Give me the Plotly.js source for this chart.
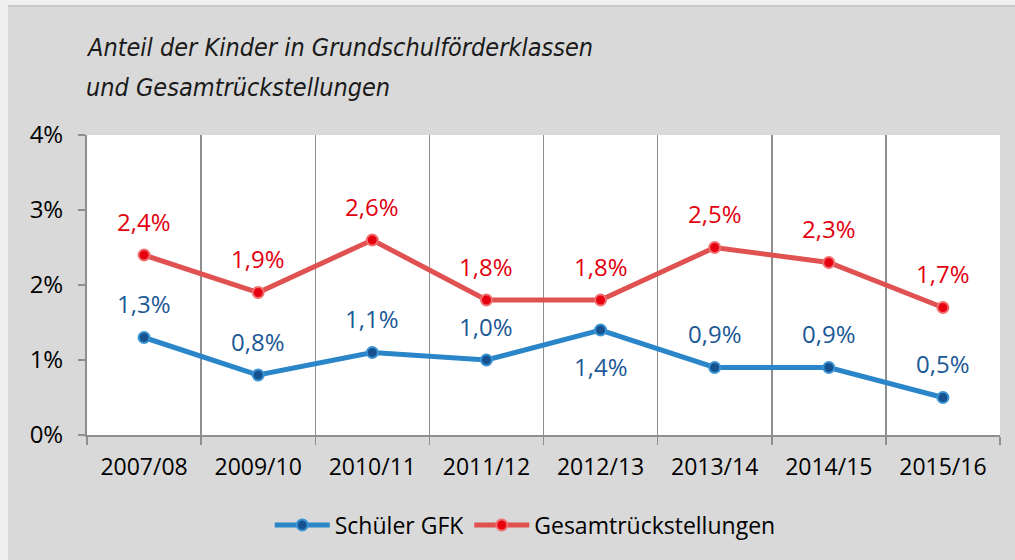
<!DOCTYPE html>
<html>
<head>
<meta charset="utf-8">
<script src="https://cdn.plot.ly/plotly-3.0.1.min.js"></script>
<style>
html,body{margin:0;padding:0;background:#efefef;}
#chart{position:absolute;left:8px;top:5px;width:1007px;height:555px;}
#topline{position:absolute;left:8px;top:5px;width:1007px;height:2px;background:#c9c9c9;z-index:5;}
</style>
</head>
<body>
<div id="chart"></div>
<div id="topline"></div>
<script>
const categories = ["2007/08","2009/10","2010/11","2011/12","2012/13","2013/14","2014/15","2015/16"];
const schuelerGFK = [1.3, 0.8, 1.1, 1.0, 1.4, 0.9, 0.9, 0.5];
const gesamtRueck = [2.4, 1.9, 2.6, 1.8, 1.8, 2.5, 2.3, 1.7];
const blueLabelBelow = [false,false,false,false,true,false,false,false];
const yTickVals = [0,1,2,3,4];
const yTickText = ["0%","1%","2%","3%","4%"];
const titleLines = ["Anteil der Kinder in Grundschulförderklassen","und Gesamtrückstellungen"];

const fmt = v => v.toFixed(1).replace('.', ',') + '%';
const FONT = "Open Sans, Noto Sans, sans-serif";
const RED_TXT = "#e3000f", BLUE_TXT = "#1b5896";

const traces = [
  {
    x: categories, y: schuelerGFK, name: "Schüler GFK", type: "scatter", mode: "lines+markers",
    line: {color: "#2a86c8", width: 5},
    marker: {color: "#16528f", size: 11, line: {color: "#3a93d3", width: 2}},
    hoverinfo: "skip"
  },
  {
    x: categories, y: gesamtRueck, name: "Gesamtrückstellungen", type: "scatter", mode: "lines+markers",
    line: {color: "#e05252", width: 5},
    marker: {color: "#e60010", size: 11, line: {color: "#f07070", width: 2}},
    hoverinfo: "skip"
  }
];

const annotations = [];
categories.forEach((c, i) => {
  annotations.push({x: c, y: gesamtRueck[i], xref: "x", yref: "y", text: fmt(gesamtRueck[i]),
    showarrow: false, yshift: 34, font: {family: FONT, size: 24, color: RED_TXT}});
  annotations.push({x: c, y: schuelerGFK[i], xref: "x", yref: "y", text: fmt(schuelerGFK[i]),
    showarrow: false, yshift: blueLabelBelow[i] ? -36 : 34, font: {family: FONT, size: 24, color: BLUE_TXT}});
});
titleLines.forEach((t, i) => {
  annotations.push({xref: "paper", yref: "paper", x: 0, xanchor: "left", y: 1, yanchor: "middle",
    yshift: 88 - i * 40, xshift: -3, text: "<i>" + t + "</i>", showarrow: false,
    font: {family: "Liberation Sans Narrow, DejaVu Sans Condensed, sans-serif", size: 25, color: "#1a1a1a"}});
});

const layout = {
  width: 1007, height: 555,
  paper_bgcolor: "#d9d9d9", plot_bgcolor: "#ffffff",
  margin: {l: 79, r: 15, t: 130, b: 125},
  showlegend: true,
  legend: {orientation: "h", x: 0.48, xanchor: "center", y: -0.3, yanchor: "middle",
    font: {family: FONT, size: 23, color: "#000"}, itemwidth: 55, bgcolor: "rgba(0,0,0,0)"},
  xaxis: {
    type: "category", range: [-0.5, 7.5], tickson: "boundaries",
    showgrid: true, gridcolor: "#8e8e8e", gridwidth: 1.5,
    showline: true, linecolor: "#8e8e8e", linewidth: 2,
    ticks: "outside", ticklen: 8, tickcolor: "#8e8e8e", tickwidth: 1.5,
    ticklabelstandoff: 10,
    tickfont: {family: FONT, size: 23, color: "#000"}, fixedrange: true
  },
  yaxis: {
    range: [0, 4], tickvals: yTickVals, ticktext: yTickText,
    showgrid: false, zeroline: false,
    showline: true, linecolor: "#8e8e8e", linewidth: 2,
    ticks: "outside", ticklen: 7, tickcolor: "#8e8e8e", tickwidth: 1.5,
    ticklabelstandoff: 10,
    tickfont: {family: FONT, size: 24, color: "#000"}, fixedrange: true
  },
  annotations: annotations
};

Plotly.newPlot("chart", traces, layout, {displayModeBar: false, staticPlot: true});
</script>
</body>
</html>
